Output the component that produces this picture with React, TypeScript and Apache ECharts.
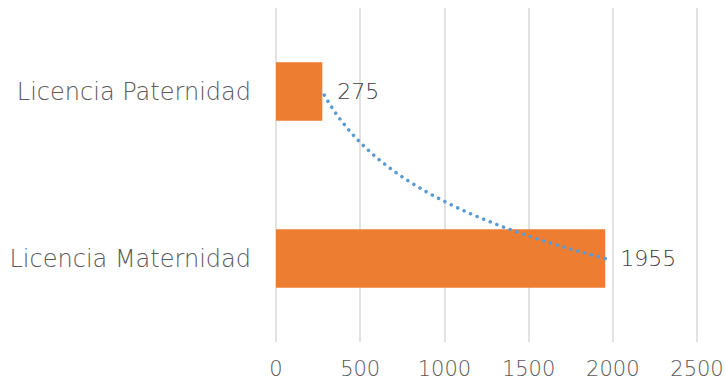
import React, { useEffect, useRef } from "react";
import * as echarts from "echarts";

const categories = ["Licencia Maternidad", "Licencia Paternidad"];
const values = [1955, 275];
const xTicks = [0, 500, 1000, 1500, 2000, 2500];

// Exponential trendline through the category index (Excel style)
function trendPoints(): number[][] {
  const pts: number[][] = [];
  const a = values[0];
  const b = values[1];
  const n = 60;
  for (let i = 0; i <= n; i++) {
    const t = i / n;
    pts.push([a * Math.pow(b / a, t), 0.5 + t]);
  }
  return pts;
}

export default function App() {
  const ref = useRef<HTMLDivElement>(null);
  useEffect(() => {
    if (!ref.current) return;
    const chart = echarts.init(ref.current, undefined, { renderer: "svg" });
    const font = "DejaVu Sans";
    chart.setOption({
      animation: false,
      grid: {
        left: 276,
        right: 28,
        top: 8,
        bottom: 43,
        containLabel: false,
        outerBoundsMode: "none",
      },
      xAxis: [
        {
          type: "value",
          min: xTicks[0],
          max: xTicks[xTicks.length - 1],
          interval: 500,
          axisLine: { show: false },
          axisTick: { show: false },
          splitLine: { show: true, lineStyle: { color: "#D9D9D9", width: 1.5 } },
          axisLabel: {
            color: "#595959",
            fontSize: 21,
            fontFamily: font,
            fontWeight: 300,
            margin: 16,
            formatter: (v: number) => String(v),
          },
        },
      ],
      yAxis: [
        {
          type: "category",
          data: categories,
          axisLine: { show: false },
          axisTick: { show: false },
          axisLabel: { color: "#595959", fontSize: 24, fontFamily: font, fontWeight: 300, margin: 25 },
        },
        {
          type: "value",
          min: 0,
          max: 2,
          show: false,
        },
      ],
      series: [
        {
          type: "bar",
          data: values,
          barWidth: "35%",
          itemStyle: { color: "#ED7D31" },
          label: {
            show: true,
            position: "right",
            distance: 15,
            color: "#404040",
            fontSize: 22,
            fontFamily: font,
            fontWeight: 300,
          },
        },
        {
          type: "line",
          yAxisIndex: 1,
          data: trendPoints(),
          showSymbol: false,
          smooth: false,
          lineStyle: { color: "#5B9BD5", width: 3.5, type: [0.1, 7], cap: "round" },
          z: 5,
        },
      ],
    });
    return () => chart.dispose();
  }, []);
  return (
    <div
      ref={ref}
      style={{ position: "absolute", left: 0, top: 0, width: 725, height: 385 }}
    />
  );
}
